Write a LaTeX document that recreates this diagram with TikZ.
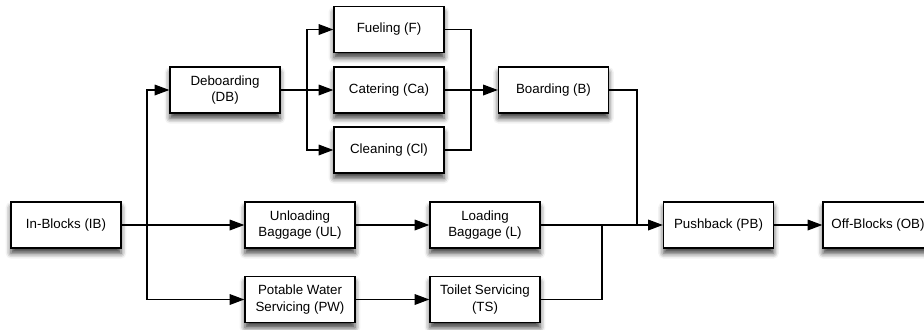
\documentclass[tikz,border=0pt]{standalone}
\usepackage{fontspec}
\setmainfont{Liberation Sans}
\usetikzlibrary{arrows.meta,shadows.blur}
\begin{document}
\begin{tikzpicture}[x=0.75pt,y=-0.75pt,
  box/.style={draw=black,fill=white,line width=1pt,rectangle,
    minimum width=82.5pt,minimum height=34.5pt,inner sep=1pt,align=center,
    font=\fontsize{10pt}{12.5pt}\selectfont,
    blur shadow={shadow xshift=0pt,shadow yshift=-4pt,shadow blur radius=4pt,shadow opacity=75}},
  conn/.style={line width=0.9pt,draw=black},
  arr/.style={conn,-{Triangle[length=11pt,width=8pt]}}]
\useasboundingbox (0,0) rectangle (924,329);
\node[box] (IB) at (66,225) {In-Blocks (IB)};
\node[box] (DB) at (225,90) {Deboarding\\(DB)};
\node[box] (F) at (389,29.5) {Fueling (F)};
\node[box] (Ca) at (389,90) {Catering (Ca)};
\node[box] (Cl) at (389,150) {Cleaning (Cl)};
\node[box] (B) at (553.5,90) {Boarding (B)};
\node[box] (UL) at (300,225) {Unloading\\Baggage (UL)};
\node[box] (L) at (485,225) {Loading\\Baggage (L)};
\node[box] (PW) at (300,299.5) {Potable Water\\Servicing (PW)};
\node[box] (TS) at (485,299.5) {Toilet Servicing\\(TS)};
\node[box] (PB) at (718.5,225) {Pushback (PB)};
\node[box] (OB) at (878,225) {Off-Blocks (OB)};
\coordinate (s1) at (147,225);
\coordinate (s2) at (307,90);
\coordinate (m1) at (471,90);
\coordinate (m2) at (637,225);
\coordinate (m3) at (602,225);
\draw[arr] (IB.east) -- (UL.west);
\draw[arr] (s1) |- (DB.west);
\draw[arr] (s1) |- (PW.west);
\draw[arr] (DB.east) -- (Ca.west);
\draw[arr] (s2) |- (F.west);
\draw[arr] (s2) |- (Cl.west);
\draw[conn] (F.east) -| (m1);
\draw[conn] (Cl.east) -| (m1);
\draw[arr] (Ca.east) -- (B.west);
\draw[conn] (B.east) -| (m2);
\draw[arr] (UL.east) -- (L.west);
\draw[arr] (PW.east) -- (TS.west);
\draw[arr] (L.east) -- (PB.west);
\draw[conn] (TS.east) -| (m3);
\draw[arr] (PB.east) -- (OB.west);
\end{tikzpicture}
\end{document}
